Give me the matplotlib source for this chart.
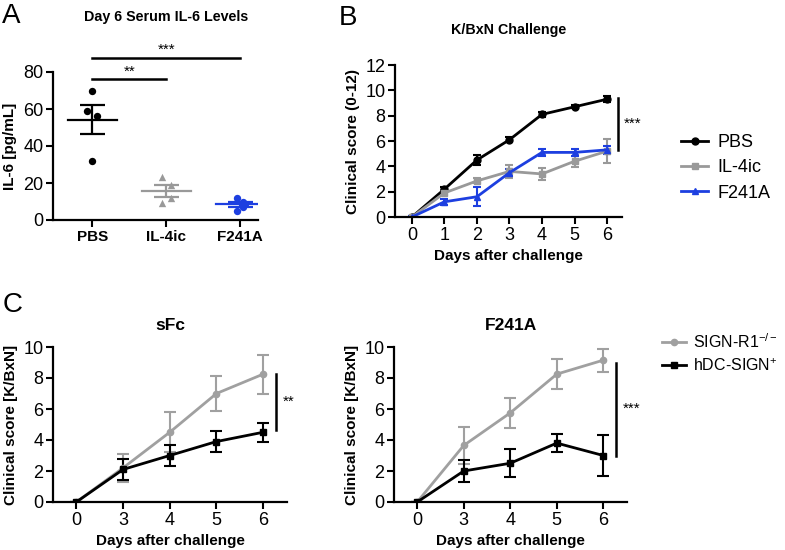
import numpy as np
import matplotlib
matplotlib.use('Agg')
import matplotlib.pyplot as plt
from matplotlib.lines import Line2D

plt.rcParams['font.family'] = ['Liberation Sans', 'DejaVu Sans']
plt.rcParams['mathtext.default'] = 'regular'

# panel A: day 6 serum IL-6
groups_a = ['PBS', 'IL-4ic', 'F241A']
il6_pbs = [70, 59, 56, 32]
il6_il4ic = [23, 19, 12, 9]
il6_f241a = [12, 10, 8.5, 7, 5]

# panel B: K/BxN challenge
days_b = [0, 1, 2, 3, 4, 5, 6]
pbs_b = [0, 2.2, 4.5, 6.1, 8.1, 8.7, 9.3]
pbs_b_err = [0.1, 0.2, 0.4, 0.2, 0.2, 0.12, 0.25]
il4ic_b = [0, 1.9, 2.85, 3.6, 3.4, 4.4, 5.2]
il4ic_b_err = [0.1, 0.2, 0.2, 0.5, 0.45, 0.45, 0.95]
f241a_b = [0, 1.2, 1.6, 3.5, 5.1, 5.1, 5.3]
f241a_b_err = [0.1, 0.25, 0.75, 0.3, 0.25, 0.25, 0.3]

# panel C
days_c = ['0', '3', '4', '5', '6']
sfc_signr1 = [0, 2.2, 4.5, 7.0, 8.25]
sfc_signr1_err = [0, 0.9, 1.3, 1.1, 1.25]
sfc_hdc = [0, 2.1, 3.0, 3.9, 4.5]
sfc_hdc_err = [0, 0.65, 0.7, 0.65, 0.6]
f241a_signr1 = [0, 3.65, 5.75, 8.25, 9.15]
f241a_signr1_err = [0, 1.2, 0.95, 0.95, 0.75]
f241a_hdc = [0, 2.0, 2.5, 3.8, 3.0]
f241a_hdc_err = [0, 0.7, 0.9, 0.6, 1.35]

BLUE = '#1d3fe0'
GRAY = '#999999'
W, H = 785, 550


def px_axes(fig, x0, y0, x1, y1):
    return fig.add_axes([x0 / W, 1 - y1 / H, (x1 - x0) / W, (y1 - y0) / H])


def style(ax):
    for s in ['top', 'right']:
        ax.spines[s].set_visible(False)
    for s in ['left', 'bottom']:
        ax.spines[s].set_linewidth(1.6)
    ax.tick_params(width=1.5, length=5, labelsize=13, pad=2)


fig = plt.figure(figsize=(7.85, 5.5), dpi=100)

# ---- A ----
ax = px_axes(fig, 53, 72, 258, 220)
style(ax)
pts = [il6_pbs, il6_il4ic, il6_f241a]
cols = ['black', GRAY, BLUE]
marks = ['o', '^', 'o']
offs = [[0, -0.07, 0.07, 0], [-0.06, 0.06, 0.06, -0.06], [-0.05, 0.04, 0.07, 0.04, -0.05]]
for i, (p, c, m, o) in enumerate(zip(pts, cols, marks, offs)):
    p = np.array(p)
    mean = p.mean()
    sem = p.std(ddof=1) / np.sqrt(len(p))
    ax.scatter(i + np.array(o), p, color=c, marker=m, s=28, zorder=3, linewidths=0)
    ax.plot([i - 0.33, i + 0.33], [mean, mean], color=c, lw=1.6)
    ax.errorbar(i, mean, yerr=sem, color=c, capsize=9, elinewidth=1.6, capthick=1.6, fmt='none')
ax.set_xlim(-0.53, 2.24)
ax.set_ylim(0, 80)
ax.set_yticks([0, 20, 40, 60, 80])
ax.set_xticks(range(3))
ax.set_xticklabels(groups_a, fontweight='bold', fontsize=11)
ax.set_ylabel('IL-6 [pg/mL]', fontweight='bold', fontsize=11)
ax.plot([0, 1], [76, 76], color='black', lw=1.8, clip_on=False)
ax.text(0.5, 76.5, '**', ha='center', va='bottom', fontsize=11)
ax.plot([0, 2], [87.5, 87.5], color='black', lw=1.8, clip_on=False)
ax.text(1, 88, '***', ha='center', va='bottom', fontsize=11)
fig.text(166 / W, 1 - 17 / H, 'Day 6 Serum IL-6 Levels', ha='center', va='center',
         fontweight='bold', fontsize=10.3)
fig.text(2 / W, 1 - 16 / H, 'A', ha='left', va='center', fontsize=20)

# ---- B ----
ax = px_axes(fig, 395, 65, 622, 217)
style(ax)
ax.errorbar(days_b, pbs_b, yerr=pbs_b_err, color='black', marker='o', ms=5, lw=2,
            capsize=3, elinewidth=1.5, capthick=1.5, label='PBS')
ax.errorbar(days_b, il4ic_b, yerr=il4ic_b_err, color=GRAY, marker='s', ms=5, lw=2,
            capsize=3, elinewidth=1.5, capthick=1.5, label='IL-4ic')
ax.errorbar(days_b, f241a_b, yerr=f241a_b_err, color=BLUE, marker='^', ms=5, lw=2,
            capsize=3, elinewidth=1.5, capthick=1.5, label='F241A')
ax.set_xlim(-0.52, 6.46)
ax.set_ylim(0, 12)
ax.set_yticks(range(0, 13, 2))
ax.set_xticks(days_b)
ax.set_xlabel('Days after challenge', fontweight='bold', fontsize=11)
ax.set_ylabel('Clinical score (0-12)', fontweight='bold', fontsize=11)
ax.set_title('K/BxN Challenge', fontweight='bold', fontsize=10.3, pad=22)
ax.plot([6.34, 6.34], [5.3, 9.4], color='black', lw=1.8, clip_on=False)
ax.text(6.5, 7.35, '***', ha='left', va='center', fontsize=11)
hb = [Line2D([], [], color='black', marker='o', ms=5, lw=2),
      Line2D([], [], color=GRAY, marker='s', ms=5, lw=2),
      Line2D([], [], color=BLUE, marker='^', ms=5, lw=2)]
fig.legend(hb, ['PBS', 'IL-4ic', 'F241A'], loc='upper left', bbox_to_anchor=(665 / W, 1 - 118 / H),
           frameon=False, fontsize=13, handlelength=1.5, handletextpad=0.5, labelspacing=0.45)
fig.text(348 / W, 1 - 18 / H, 'B', ha='center', va='center', fontsize=20)

# ---- C ----
for (x0, x1, title, s1, s1e, s2, s2e, bar, stars) in [
        (53, 287, 'sFc', sfc_signr1, sfc_signr1_err, sfc_hdc, sfc_hdc_err, (4.65, 8.26), '**'),
        (394, 627, 'F241A', f241a_signr1, f241a_signr1_err, f241a_hdc, f241a_hdc_err, (3.0, 9.0), '***')]:
    ax = px_axes(fig, x0, 347, x1, 502)
    style(ax)
    xs = np.arange(len(days_c))
    ax.errorbar(xs, s1, yerr=s1e, color='#a0a0a0', marker='o', ms=4.5, lw=2,
                capsize=4, elinewidth=1.5, capthick=1.5)
    ax.errorbar(xs, s2, yerr=s2e, color='black', marker='s', ms=5, lw=2,
                capsize=4, elinewidth=1.5, capthick=1.5)
    ax.set_xlim(-0.5, 4.51)
    ax.set_ylim(0, 10)
    ax.set_yticks(range(0, 11, 2))
    ax.set_xticks(xs)
    ax.set_xticklabels(days_c)
    ax.set_xlabel('Days after challenge', fontweight='bold', fontsize=11)
    ax.set_ylabel('Clinical score [K/BxN]', fontweight='bold', fontsize=11)
    ax.set_title(title, fontweight='bold', fontsize=12.5, pad=12)
    ax.plot([4.28, 4.28], bar, color='black', lw=1.8, clip_on=False)
    ax.text(4.43, np.mean(bar), stars, ha='left', va='center', fontsize=11)

hc = [Line2D([], [], color='#a0a0a0', marker='o', ms=4.5, lw=2),
      Line2D([], [], color='black', marker='s', ms=5, lw=2)]
fig.legend(hc, ['SIGN-R1$^{-/-}$', 'hDC-SIGN$^{+}$'], loc='upper left', bbox_to_anchor=(648 / W, 1 - 318 / H),
           frameon=False, fontsize=11.5, handlelength=1.5, handletextpad=0.4, labelspacing=0.4)
fig.text(13 / W, 1 - 305 / H, 'C', ha='center', va='center', fontsize=20)

fig.savefig('out.png', dpi=100)
